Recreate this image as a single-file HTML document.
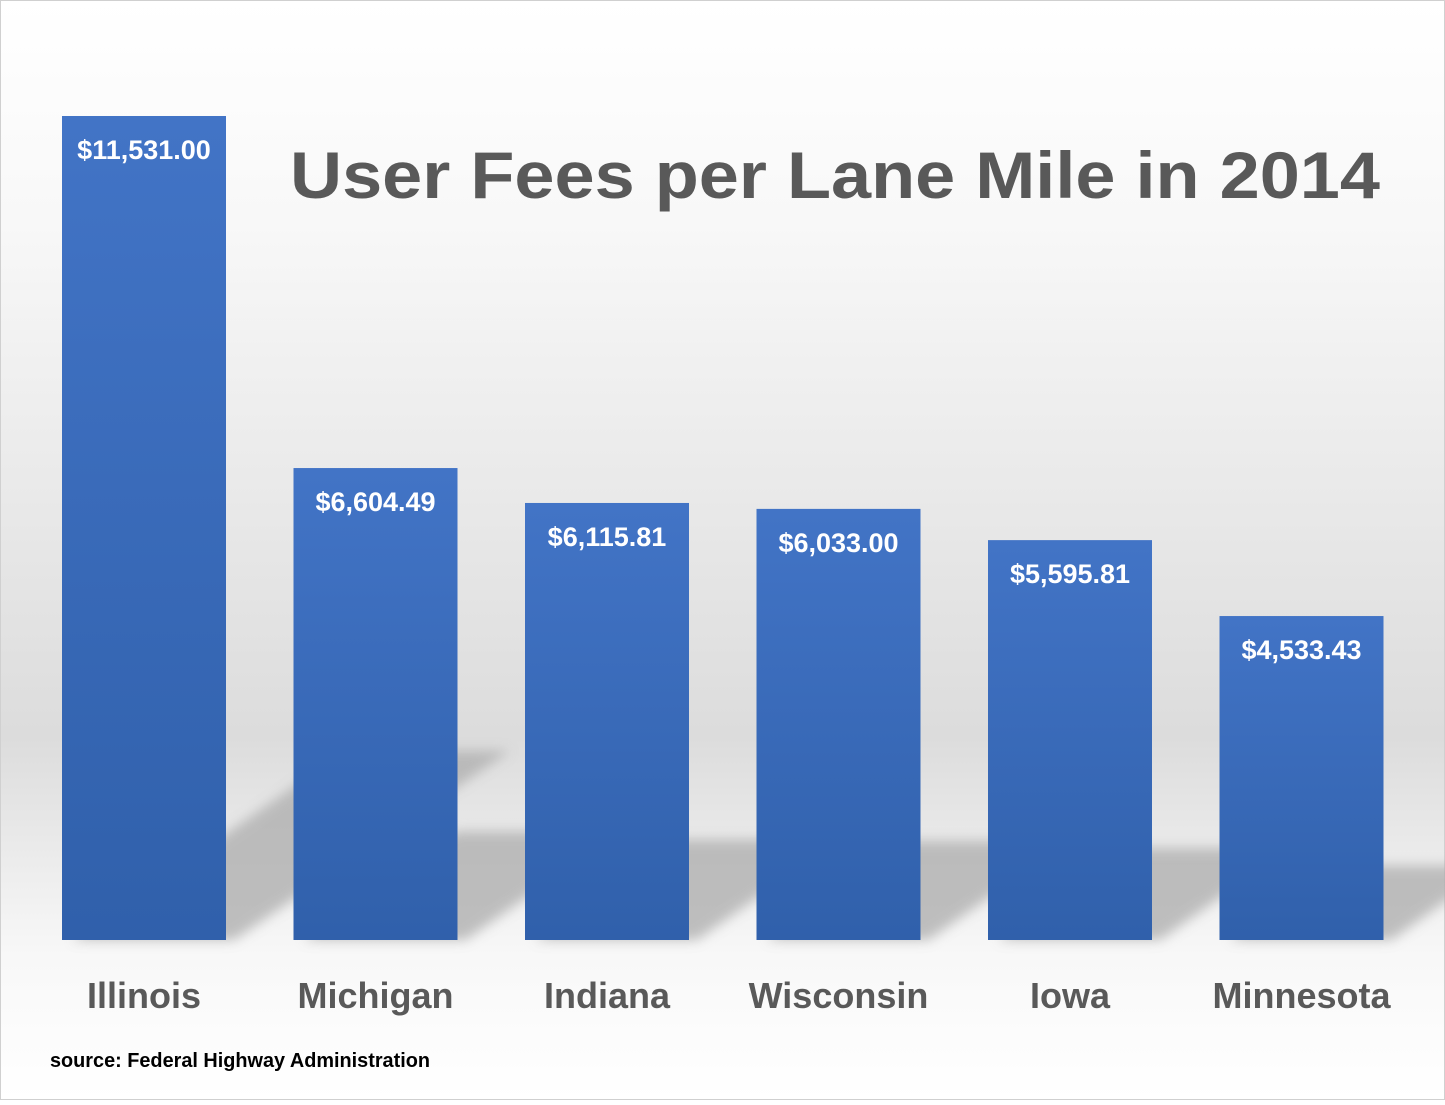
<!DOCTYPE html>
<html><head><meta charset="utf-8"><style>
body{margin:0;width:1445px;height:1100px;overflow:hidden;font-family:"Liberation Sans",sans-serif}
</style></head><body>
<svg id="chart" width="1445" height="1100" xmlns="http://www.w3.org/2000/svg">
<defs>
<linearGradient id="bg" x1="0" y1="0" x2="0" y2="1">
<stop offset="0" stop-color="#ffffff"/><stop offset="0.2" stop-color="#f8f8f8"/><stop offset="0.67" stop-color="#dcdcdc"/><stop offset="0.87" stop-color="#f8f8f8"/><stop offset="1" stop-color="#ffffff"/>
</linearGradient>
<linearGradient id="barg" x1="0" y1="0" x2="0" y2="1">
<stop offset="0" stop-color="#4274c6"/><stop offset="1" stop-color="#3060ab"/>
</linearGradient>
<filter id="blur" x="-20%" y="-20%" width="140%" height="140%"><feGaussianBlur stdDeviation="6"/></filter>
</defs>
<rect x="0.5" y="0.5" width="1444" height="1099" fill="url(#bg)" stroke="#d0d0d0"/>
<g id="shadows"></g>
<g id="bars"></g>
<g id="labels"></g>
<text x="290" y="198" font-size="66" font-weight="bold" fill="#595959" textLength="1090" lengthAdjust="spacingAndGlyphs">User Fees per Lane Mile in 2014</text>
<text x="50" y="1067" font-size="20" font-weight="bold" fill="#000" textLength="380" lengthAdjust="spacingAndGlyphs">source: Federal Highway Administration</text>
</svg>
<script>
const categories=["Illinois","Michigan","Indiana","Wisconsin","Iowa","Minnesota"];
const values=[11531.00,6604.49,6115.81,6033.00,5595.81,4533.43];
const valueLabels=["$11,531.00","$6,604.49","$6,115.81","$6,033.00","$5,595.81","$4,533.43"];
const NS="http://www.w3.org/2000/svg";
const base=940,scale=824/11531,x0=62,step=231.5,bw=164;
const y=v=>base-v*scale;
const xs=i=>x0+i*step;
const sg=document.getElementById('shadows'),bg=document.getElementById('bars'),lg=document.getElementById('labels');
function mk(tag,attrs,parent){const e=document.createElementNS(NS,tag);for(const k in attrs)e.setAttribute(k,attrs[k]);parent.appendChild(e);return e;}
values.forEach((v,i)=>{
  const x=xs(i),h=(base-y(v))*0.23,dx=h*1.5;
  const s=mk('polygon',{points:`${x+10},${base} ${x+bw+8},${base} ${x+bw+dx},${base-h} ${x+dx},${base-h}`,fill:'#b0b0b0',filter:'url(#blur)',opacity:'0.8'},sg);
  
  
  const r=mk('rect',{x:x,y:y(v),width:bw,height:base-y(v),fill:'url(#barg)'},bg);
  
  
  const t=mk('text',{x:x+bw/2,y:y(v)+43,'text-anchor':'middle','font-size':'27','font-weight':'bold',fill:'#fff'},lg);
  t.textContent=valueLabels[i];
  
  
  const c=mk('text',{x:x+bw/2,y:1008,'text-anchor':'middle','font-size':'36','font-weight':'bold',fill:'#595959'},lg);
  c.textContent=categories[i];
  
  
});
</script>
</body></html>
